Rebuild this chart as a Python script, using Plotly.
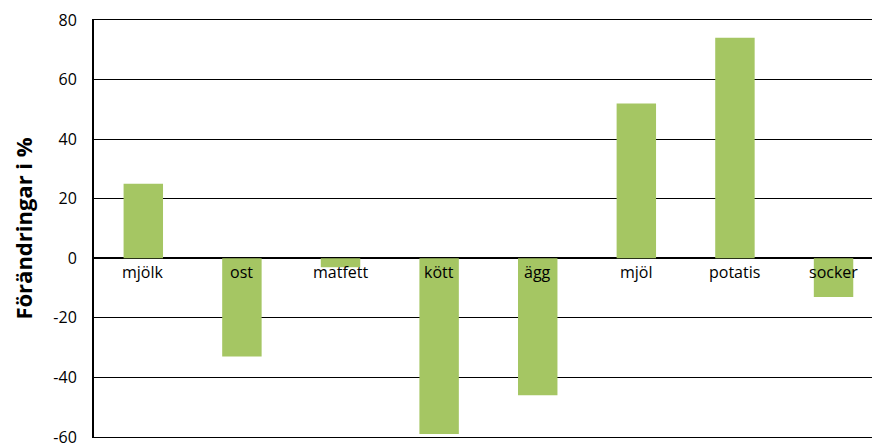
import plotly.graph_objects as go

categories = ["mjölk", "ost", "matfett", "kött", "ägg", "mjöl", "potatis", "socker"]
values = [25, -33, -3, -59, -46, 52, 74, -13]
y_ticks = [-60, -40, -20, 0, 20, 40, 60, 80]
y_tick_labels = ["-60", "-40", "-20", "0", "20", "40", "60", "80"]

fig = go.Figure()
fig.add_trace(go.Bar(
    x=list(range(len(categories))), y=values,
    marker=dict(color="#A5C663", line=dict(width=0)),
    width=0.4, hoverinfo="skip",
))

for i, c in enumerate(categories):
    fig.add_annotation(x=i, y=0, xref="x", yref="y", text=c, showarrow=False,
                       yanchor="top", yshift=-1,
                       font=dict(family="Open Sans", size=16, color="#000000"))

fig.update_layout(
    width=872, height=443,
    margin=dict(l=94, r=0, t=20, b=6, autoexpand=False),
    plot_bgcolor="white", paper_bgcolor="white",
    showlegend=False,
    font=dict(family="Open Sans", size=16, color="#000000"),
    xaxis=dict(range=[-0.5, 7.39], showticklabels=False, showgrid=False,
               zeroline=False, showline=True, mirror=True, linecolor="#000000",
               linewidth=1, fixedrange=True, automargin=False),
    yaxis=dict(range=[-60, 80], tickvals=y_ticks, ticktext=y_tick_labels,
               showgrid=True, automargin=False, ticklabeloverflow="allow",
               gridcolor="#000000", gridwidth=1,
               zeroline=True, zerolinecolor="#000000", zerolinewidth=2,
               showline=True, linecolor="#000000", linewidth=2,
               ticks="", ticklabelstandoff=12,
               title=dict(text="<b>Förändringar i %</b>", standoff=15,
                          font=dict(family="Open Sans", size=22, color="#000000"))),
)

fig.write_html("out.html", config={"displayModeBar": False},
               post_script="document.body.style.margin='0';document.body.style.overflow='hidden';")
